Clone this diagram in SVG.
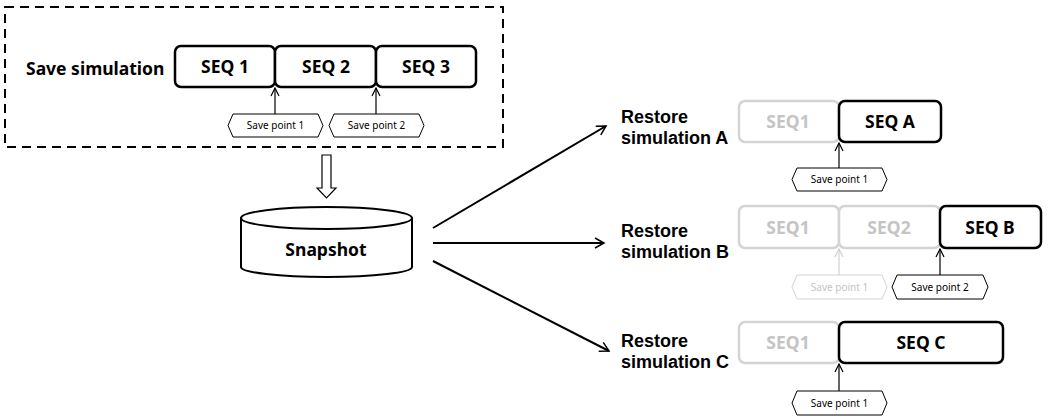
<svg xmlns="http://www.w3.org/2000/svg" width="1049" height="417" viewBox="0 0 1049 417">
<style>
.t{font-family:"Noto Sans","Open Sans",sans-serif;font-weight:bold;fill:#000}
.lbl{font-size:17.5px}
.rl{font-family:"Liberation Sans",Arial,sans-serif;font-weight:bold;font-size:18px;fill:#000}
.seq{font-size:17.5px;text-anchor:middle}
.sp{font-family:"Noto Sans","Open Sans",sans-serif;font-size:10px;text-anchor:middle;fill:#000}
.box{fill:#fff;stroke:#000;stroke-width:2.5}
.gbox{fill:#fff;stroke:#d4d4d4;stroke-width:2.5}
.gtxt{fill:#c4c4c4}
.hex{fill:#fff;stroke:#000;stroke-width:1}
.ghex{fill:#fff;stroke:#d4d4d4;stroke-width:1}
.ln{stroke:#000;stroke-width:1.2;fill:none}
.gln{stroke:#d0d0d0;stroke-width:1.2;fill:none}
.conn{stroke:#000;stroke-width:2;fill:none}
</style>
<defs>
<marker id="ah" markerWidth="12" markerHeight="12" refX="10" refY="6" orient="auto" markerUnits="userSpaceOnUse">
<path d="M1,1 L10,6 L1,11" fill="none" stroke="#000" stroke-width="1.5"/>
</marker>
<marker id="ahs" markerWidth="10" markerHeight="10" refX="9" refY="5" orient="auto" markerUnits="userSpaceOnUse">
<path d="M1,1 L9,5 L1,9" fill="none" stroke="#000" stroke-width="1.2"/>
</marker>
<marker id="ahg" markerWidth="10" markerHeight="10" refX="9" refY="5" orient="auto" markerUnits="userSpaceOnUse">
<path d="M1,1 L9,5 L1,9" fill="none" stroke="#d0d0d0" stroke-width="1.2"/>
</marker>
</defs>

<g id="save-simulation">
<rect x="5" y="7" width="498" height="140" fill="none" stroke="#000" stroke-width="2" stroke-dasharray="9,6"/>
<text class="t lbl" x="26" y="75">Save simulation</text>
<rect class="box" x="175" y="46" width="100" height="41" rx="6"/>
<rect class="box" x="275" y="46" width="101" height="41" rx="6"/>
<rect class="box" x="376" y="46" width="100" height="41" rx="6"/>
<text class="t seq" x="225" y="73">SEQ 1</text>
<text class="t seq" x="326" y="73">SEQ 2</text>
<text class="t seq" x="426" y="73">SEQ 3</text>
<line class="ln" x1="275" y1="114" x2="275" y2="88" marker-end="url(#ahs)"/>
<line class="ln" x1="376" y1="114" x2="376" y2="88" marker-end="url(#ahs)"/>
<polygon class="hex" points="228,125.5 233,114 318,114 323,125.5 318,137 233,137"/>
<text class="sp" x="275.5" y="129">Save point 1</text>
<polygon class="hex" points="329,125.5 334,114 419,114 424,125.5 419,137 334,137"/>
<text class="sp" x="376.5" y="129">Save point 2</text>
</g>

<g id="down-arrow">
<polygon points="322,155 331,155 331,188 336,188 326.5,198 317,188 322,188" fill="#fff" stroke="#000" stroke-width="1.2"/>
</g>

<g id="snapshot">
<path d="M241,218 L241,267 A85.5,10 0 0 0 412,267 L412,218" fill="#fff" stroke="#000" stroke-width="2"/>
<ellipse cx="326.5" cy="218" rx="85.5" ry="11" fill="#fff" stroke="#000" stroke-width="2"/>
<text class="t seq" x="326" y="256">Snapshot</text>
</g>

<g id="connectors">
<line class="conn" x1="433" y1="228" x2="606" y2="126" marker-end="url(#ah)"/>
<line class="conn" x1="433" y1="243" x2="604" y2="243" marker-end="url(#ah)"/>
<line class="conn" x1="433" y1="261" x2="609" y2="351" marker-end="url(#ah)"/>
</g>

<g id="restore-a">
<text class="rl" x="621" y="123">Restore</text>
<text class="rl" x="621" y="144">simulation A</text>
<rect class="gbox" x="739" y="101" width="100" height="41" rx="6"/>
<rect class="box" x="839" y="101" width="102" height="41" rx="6"/>
<text class="t seq gtxt" x="788" y="128">SEQ1</text>
<text class="t seq" x="890" y="128">SEQ A</text>
<line class="ln" x1="839" y1="168" x2="839" y2="143" marker-end="url(#ahs)"/>
<polygon class="hex" points="792,179.5 797,168 882,168 887,179.5 882,191 797,191"/>
<text class="sp" x="839.5" y="183">Save point 1</text>
</g>

<g id="restore-b">
<text class="rl" x="621" y="237">Restore</text>
<text class="rl" x="621" y="258">simulation B</text>
<rect class="gbox" x="739" y="206" width="100" height="42" rx="6"/>
<rect class="gbox" x="839" y="206" width="101" height="42" rx="6"/>
<rect class="box" x="940" y="206" width="101" height="42" rx="6"/>
<text class="t seq gtxt" x="788" y="234">SEQ1</text>
<text class="t seq gtxt" x="889" y="234">SEQ2</text>
<text class="t seq" x="990" y="234">SEQ B</text>
<line class="gln" x1="839" y1="275" x2="839" y2="249" marker-end="url(#ahg)"/>
<line class="ln" x1="940" y1="275" x2="940" y2="249" marker-end="url(#ahs)"/>
<polygon class="ghex" points="792,287 797,275 882,275 887,287 882,299 797,299"/>
<text class="sp gtxt" x="839.5" y="290.5">Save point 1</text>
<polygon class="hex" points="892,287 897,275 983,275 988,287 983,299 897,299"/>
<text class="sp" x="940" y="290.5">Save point 2</text>
</g>

<g id="restore-c">
<text class="rl" x="621" y="347">Restore</text>
<text class="rl" x="621" y="368">simulation C</text>
<rect class="gbox" x="739" y="322" width="100" height="41" rx="6"/>
<rect class="box" x="839" y="322" width="164" height="41" rx="6"/>
<text class="t seq gtxt" x="788" y="349">SEQ1</text>
<text class="t seq" x="921" y="349">SEQ C</text>
<line class="ln" x1="839" y1="391" x2="839" y2="364" marker-end="url(#ahs)"/>
<polygon class="hex" points="792,403 797,391 882,391 887,403 882,415 797,415"/>
<text class="sp" x="839.5" y="406.5">Save point 1</text>
</g>
</svg>
